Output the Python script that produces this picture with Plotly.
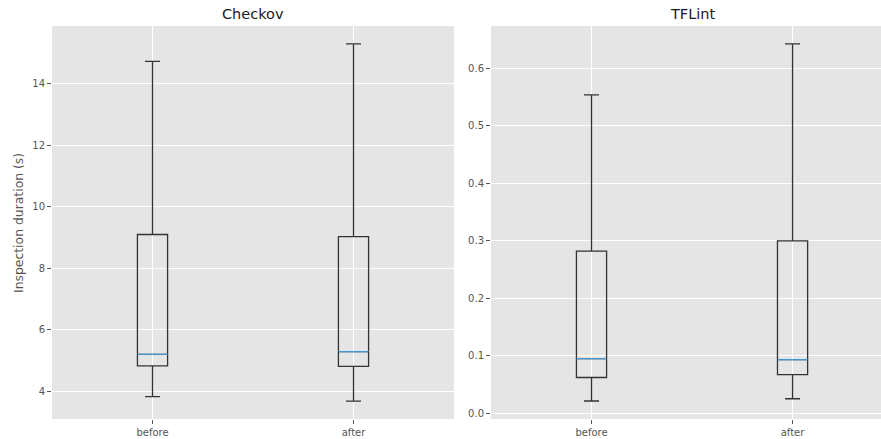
import plotly.graph_objects as go

categories = ["before", "after"]

# Checkov (seconds)
checkov_lower = [3.83, 3.68]
checkov_q1 = [4.83, 4.81]
checkov_median = [5.20, 5.29]
checkov_q3 = [9.10, 9.03]
checkov_upper = [14.73, 15.30]

# TFLint (seconds)
tflint_lower = [0.021, 0.025]
tflint_q1 = [0.062, 0.067]
tflint_median = [0.095, 0.093]
tflint_q3 = [0.282, 0.300]
tflint_upper = [0.554, 0.643]

W, H = 881, 439
BOX_COLOR = "#333333"
MED_COLOR = "#4596D0"
GRID = "#FFFFFF"
BG = "#E5E5E5"
TICKC = "#555555"
FONT = "DejaVu Sans"

fig = go.Figure()


def add_boxes(lower, q1, med, q3, upper, xa, ya):
    fig.add_trace(go.Box(
        x=categories, q1=q1, median=med, q3=q3,
        lowerfence=lower, upperfence=upper,
        width=0.15, whiskerwidth=0.5,
        line=dict(color=BOX_COLOR, width=1.3),
        fillcolor="rgba(0,0,0,0)",
        boxpoints=False, showlegend=False,
        xaxis=xa, yaxis=ya, hoverinfo="skip",
    ))
    # median line overlay in matplotlib's median colour
    fig.add_trace(go.Box(
        x=categories, q1=med, median=med, q3=med,
        lowerfence=med, upperfence=med,
        width=0.15, whiskerwidth=0,
        line=dict(color=MED_COLOR, width=1.3),
        fillcolor="rgba(0,0,0,0)",
        boxpoints=False, showlegend=False,
        xaxis=xa, yaxis=ya, hoverinfo="skip",
    ))


add_boxes(checkov_lower, checkov_q1, checkov_median, checkov_q3, checkov_upper, "x", "y")
add_boxes(tflint_lower, tflint_q1, tflint_median, tflint_q3, tflint_upper, "x2", "y2")

y_dom = [1 - 419 / H, 1 - 26 / H]

axis_common = dict(
    showgrid=True, gridcolor=GRID, gridwidth=1,
    ticks="outside", ticklen=4, tickwidth=1, tickcolor=TICKC,
    tickfont=dict(family=FONT, size=10, color=TICKC),
    showline=False, zeroline=False,
)

fig.update_layout(
    width=W, height=H,
    margin=dict(l=0, r=0, t=0, b=0),
    paper_bgcolor="white",
    plot_bgcolor=BG,
    boxmode="overlay",
    font=dict(family=FONT),
    xaxis=dict(domain=[52 / W, 454 / W], type="category", range=[-0.5, 1.5],
               anchor="y", **axis_common),
    yaxis=dict(domain=y_dom, range=[3.10, 15.88], dtick=2, anchor="x",
               **axis_common),
    xaxis2=dict(domain=[491 / W, 1.0], type="category", range=[-0.5, 1.44],
                anchor="y2", **axis_common),
    yaxis2=dict(domain=y_dom, range=[-0.0103, 0.674], dtick=0.1,
                tickformat=".1f", anchor="x2", **axis_common),
    annotations=[
        dict(text="Checkov", x=(52 + 454) / 2 / W, y=1 - 14 / H,
             xref="paper", yref="paper", showarrow=False,
             font=dict(family=FONT, size=14.5, color="#1a1a1a"),
             xanchor="center", yanchor="middle"),
        dict(text="TFLint", x=(491 + 893) / 2 / W, y=1 - 14 / H,
             xref="paper", yref="paper", showarrow=False,
             font=dict(family=FONT, size=14.5, color="#1a1a1a"),
             xanchor="center", yanchor="middle"),
        dict(text="Inspection duration (s)", x=18 / W, y=1 - 223 / H,
             xref="paper", yref="paper", showarrow=False, textangle=-90,
             font=dict(family=FONT, size=12.4, color=TICKC),
             xanchor="center", yanchor="middle"),
    ],
)

fig.write_html("out.html")
